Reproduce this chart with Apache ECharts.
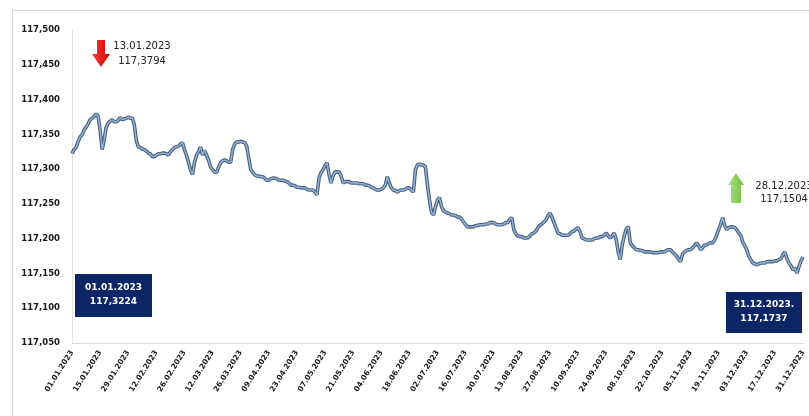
<!DOCTYPE html>
<html>
<head>
<meta charset="utf-8">
<script src="https://cdn.jsdelivr.net/npm/echarts@6/dist/echarts.min.js"></script>
<style>
  html, body { margin: 0; padding: 0; background: #ffffff; }
  #chart { width: 809px; height: 416px; }
</style>
</head>
<body>
<div id="chart"></div>
<script>
// Daily rate, 2023, one array per month
const jan = [117.3224,117.328,117.331,117.339,117.346,117.349,117.356,117.360,117.365,117.371,117.373,117.376,117.3794,117.376,117.356,117.328,117.342,117.360,117.366,117.369,117.371,117.368,117.368,117.370,117.374,117.371,117.372,117.373,117.375,117.373,117.374];
const feb = [117.364,117.342,117.332,117.331,117.329,117.328,117.326,117.323,117.322,117.318,117.318,117.320,117.322,117.322,117.323,117.323,117.322,117.320,117.325,117.328,117.331,117.332,117.333,117.336,117.338,117.328,117.320,117.310];
const mar = [117.299,117.292,117.310,117.320,117.325,117.332,117.320,117.327,117.320,117.313,117.303,117.299,117.296,117.295,117.303,117.309,117.312,117.313,117.312,117.310,117.310,117.328,117.336,117.339,117.339,117.340,117.339,117.338,117.333,117.316,117.299];
const apr = [117.295,117.292,117.290,117.290,117.289,117.289,117.287,117.284,117.284,117.286,117.287,117.287,117.286,117.284,117.284,117.284,117.283,117.282,117.280,117.277,117.277,117.276,117.274,117.274,117.273,117.273,117.273,117.271,117.270,117.270];
const may = [117.270,117.267,117.263,117.287,117.295,117.299,117.305,117.309,117.292,117.280,117.290,117.296,117.296,117.296,117.290,117.280,117.282,117.282,117.282,117.280,117.280,117.280,117.280,117.279,117.279,117.279,117.277,117.277,117.276,117.274,117.273];
const jun = [117.271,117.270,117.270,117.271,117.273,117.277,117.289,117.280,117.273,117.270,117.269,117.267,117.269,117.270,117.270,117.271,117.273,117.273,117.270,117.267,117.299,117.306,117.307,117.306,117.306,117.303,117.277,117.256,117.238,117.234];
const jul = [117.246,117.256,117.259,117.246,117.240,117.238,117.237,117.236,117.234,117.234,117.233,117.231,117.231,117.228,117.224,117.220,117.217,117.217,117.217,117.217,117.219,117.219,117.220,117.220,117.220,117.221,117.221,117.223,117.223,117.223,117.221];
const aug = [117.220,117.220,117.220,117.221,117.223,117.223,117.228,117.230,117.213,117.207,117.204,117.203,117.203,117.201,117.201,117.201,117.204,117.207,117.208,117.211,117.216,117.219,117.221,117.224,117.227,117.233,117.237,117.231,117.223,117.216,117.208];
const sep = [117.207,117.205,117.205,117.205,117.205,117.207,117.210,117.211,117.214,117.216,117.210,117.201,117.200,117.198,117.198,117.198,117.198,117.200,117.201,117.201,117.203,117.203,117.205,117.208,117.204,117.201,117.204,117.208,117.198,117.181];
const oct = [117.170,117.191,117.204,117.214,117.217,117.194,117.190,117.187,117.184,117.184,117.183,117.183,117.181,117.181,117.181,117.181,117.180,117.180,117.180,117.180,117.181,117.181,117.181,117.183,117.184,117.184,117.181,117.178,117.175,117.171,117.167];
const nov = [117.178,117.181,117.183,117.184,117.184,117.187,117.190,117.194,117.190,117.184,117.187,117.191,117.191,117.193,117.194,117.194,117.198,117.205,117.213,117.221,117.230,117.219,117.213,117.216,117.217,117.217,117.216,117.213,117.208,117.205];
const dec = [117.195,117.190,117.184,117.175,117.170,117.165,117.164,117.162,117.164,117.165,117.165,117.165,117.167,117.167,117.167,117.167,117.168,117.168,117.170,117.171,117.177,117.181,117.171,117.165,117.161,117.155,117.158,117.1504,117.160,117.168,117.1737];

const yTicks = { min: 117.05, max: 117.5, step: 0.05 };

const values = [].concat(jan, feb, mar, apr, may, jun, jul, aug, sep, oct, nov, dec);

// Calendar day labels dd.mm.yyyy
const pad = n => (n < 10 ? '0' : '') + n;
const categories = [];
for (let i = 0; i < values.length; i++) {
  const d = new Date(Date.UTC(2023, 0, 1 + i));
  categories.push(pad(d.getUTCDate()) + '.' + pad(d.getUTCMonth() + 1) + '.' + d.getUTCFullYear());
}

const fmt4 = v => v.toFixed(4).replace('.', ',');
let iMax = 0, iMin = 0;
values.forEach((v, i) => { if (v > values[iMax]) iMax = i; if (v < values[iMin]) iMin = i; });
const iFirst = 0, iLast = values.length - 1;

const chart = echarts.init(document.getElementById('chart'), null, { renderer: 'canvas' });

const labelFont = 'DejaVu Sans';
const lineStyleShared = { type: 'line', showSymbol: false, symbol: 'none', silent: true, data: values };

chart.setOption({
  animation: false,
  backgroundColor: '#ffffff',
  grid: { left: 72, right: 6, top: 30, bottom: 73 },
  xAxis: {
    type: 'category',
    data: categories,
    boundaryGap: false,
    axisLine: { show: true, lineStyle: { color: '#d9d9d9', width: 1 } },
    axisTick: { show: false },
    axisLabel: {
      interval: 13,
      rotate: 58,
      margin: 8,
      color: '#1a1a1a',
      fontFamily: labelFont,
      fontWeight: 'bold',
      fontSize: 7.5
    },
    splitLine: { show: false }
  },
  yAxis: {
    type: 'value',
    min: yTicks.min,
    max: yTicks.max,
    interval: yTicks.step,
    axisLine: { show: true, lineStyle: { color: '#e3e3e3' } },
    axisTick: { show: false },
    splitLine: { show: false },
    axisLabel: {
      margin: 12,
      color: '#1a1a1a',
      fontFamily: labelFont,
      fontWeight: 'bold',
      fontSize: 8.5,
      formatter: v => v.toFixed(3).replace('.', ',')
    }
  },
  series: [
    Object.assign({}, lineStyleShared, { name: 'outline', lineStyle: { color: '#4f5f78', width: 3.6 }, z: 2 }),
    Object.assign({}, lineStyleShared, { name: 'rate', lineStyle: { color: '#8db6e2', width: 1.4 }, z: 3 })
  ],
  graphic: [
    // frame
    { type: 'line', shape: { x1: 12, y1: 10.5, x2: 809, y2: 10.5 }, style: { stroke: '#d4d4d4', lineWidth: 1 } },
    { type: 'line', shape: { x1: 12.5, y1: 10, x2: 12.5, y2: 416 }, style: { stroke: '#d4d4d4', lineWidth: 1 } },
    // maximum: red arrow and caption
    {
      type: 'polygon',
      shape: { points: [[97, 40], [105, 40], [105, 54], [110, 54], [101, 67], [92, 54], [97, 54]] },
      style: { fill: new echarts.graphic.LinearGradient(0, 0, 1, 0, [{ offset: 0, color: '#ff3b3b' }, { offset: 1, color: '#d40000' }]) }
    },
    { type: 'text', style: { text: categories[iMax], x: 142, y: 46, textAlign: 'center', textVerticalAlign: 'middle', font: '10px "DejaVu Sans"', fill: '#222222' } },
    { type: 'text', style: { text: fmt4(values[iMax]), x: 142, y: 61, textAlign: 'center', textVerticalAlign: 'middle', font: '10px "DejaVu Sans"', fill: '#222222' } },
    // minimum: green arrow and caption
    {
      type: 'polygon',
      shape: { points: [[736, 173], [744, 185], [741, 185], [741, 203], [731, 203], [731, 185], [728, 185]] },
      style: { fill: new echarts.graphic.LinearGradient(0, 0, 1, 0, [{ offset: 0, color: '#a6e07a' }, { offset: 1, color: '#74c043' }]) }
    },
    { type: 'text', style: { text: categories[iMin], x: 784, y: 186, textAlign: 'center', textVerticalAlign: 'middle', font: '10px "DejaVu Sans"', fill: '#222222' } },
    { type: 'text', style: { text: fmt4(values[iMin]), x: 784, y: 199, textAlign: 'center', textVerticalAlign: 'middle', font: '10px "DejaVu Sans"', fill: '#222222' } },
    // first day box
    { type: 'rect', shape: { x: 75, y: 274, width: 77, height: 43 }, style: { fill: '#0c2565' } },
    { type: 'text', style: { text: categories[iFirst], x: 113.5, y: 288, textAlign: 'center', textVerticalAlign: 'middle', font: 'bold 9px "DejaVu Sans"', fill: '#ffffff' } },
    { type: 'text', style: { text: fmt4(values[iFirst]), x: 113.5, y: 302, textAlign: 'center', textVerticalAlign: 'middle', font: 'bold 9px "DejaVu Sans"', fill: '#ffffff' } },
    // last day box
    { type: 'rect', shape: { x: 726, y: 292, width: 76, height: 41 }, style: { fill: '#0c2565' } },
    { type: 'text', style: { text: categories[iLast] + '.', x: 764, y: 305, textAlign: 'center', textVerticalAlign: 'middle', font: 'bold 9px "DejaVu Sans"', fill: '#ffffff' } },
    { type: 'text', style: { text: fmt4(values[iLast]), x: 764, y: 319, textAlign: 'center', textVerticalAlign: 'middle', font: 'bold 9px "DejaVu Sans"', fill: '#ffffff' } }
  ]
});
</script>
</body>
</html>
